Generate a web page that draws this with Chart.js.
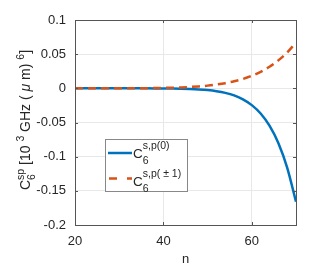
<!DOCTYPE html>
<html>
<head>
<meta charset="utf-8">
<script src="https://cdn.jsdelivr.net/npm/chart.js@4.4.1/dist/chart.umd.min.js"></script>
<style>
  html, body { margin: 0; padding: 0; background: #fff; }
  #wrap { width: 327px; height: 267px; }
</style>
</head>
<body>
<div id="wrap"><canvas id="c" width="327" height="267"></canvas></div>
<script>
// principal quantum number n
const nValues = [20, 22, 24, 26, 28, 30, 32, 34, 36, 38, 40, 42, 44, 46, 48,
  50, 52, 54, 56, 58, 60, 62, 64, 66, 68, 70];
// C6 s,p(0)
const c6m0 = [0, 0, 0, 0, -0.000002, -0.000005, -0.00001, -0.00002, -0.00004,
  -0.00009, -0.00016, -0.0003, -0.00052, -0.00091, -0.00154, -0.00256, -0.00416,
  -0.00665, -0.0104, -0.0161, -0.0246, -0.0369, -0.0547, -0.080, -0.116, -0.166];
// C6 s,p(+-1)
const c6m1 = [0.000002, 0.000004, 0.000008, 0.000016, 0.00003, 0.000054, 0.000093,
  0.00016, 0.00025, 0.0004, 0.00061, 0.00092, 0.00136, 0.00197, 0.00282, 0.00397,
  0.00552, 0.00758, 0.0103, 0.0138, 0.0184, 0.0242, 0.0316, 0.0409, 0.0525, 0.067];

const xTicks = [20, 40, 60];
const yTicks = [-0.2, -0.15, -0.1, -0.05, 0, 0.05, 0.1];

const BLUE = "#0072BD";
const ORANGE = "#D95319";
const TXT = "#262626";
const FONT = "Liberation Sans, Arial, sans-serif";

// draw a run of text pieces: {t, size, dy, italic} or {stack: true, sup, sub, size}
function pieceFont(p, base) {
  return (p.italic ? "italic " : "") + (p.size || base) + "px " + FONT;
}

function richWidth(ctx, parts, base) {
  let w = 0;
  for (const p of parts) {
    ctx.font = pieceFont(p, base);
    if (p.stack) w += Math.max(ctx.measureText(p.sup).width, ctx.measureText(p.sub).width);
    else w += ctx.measureText(p.t).width;
  }
  return w;
}

function drawRich(ctx, x, y, parts, base, sup, sub) {
  for (const p of parts) {
    ctx.font = pieceFont(p, base);
    if (p.stack) {
      ctx.fillText(p.sup, x, y - sup);
      ctx.fillText(p.sub, x, y + sub);
      x += Math.max(ctx.measureText(p.sup).width, ctx.measureText(p.sub).width);
    } else {
      ctx.fillText(p.t, x, y + (p.dy || 0));
      x += ctx.measureText(p.t).width;
    }
  }
}

const matlabLook = {
  id: "matlabLook",
  afterDraw(chart) {
    const ctx = chart.ctx;
    const a = chart.chartArea;
    const xs = chart.scales.x, ys = chart.scales.y;
    ctx.save();

    // box and inward ticks
    ctx.strokeStyle = "#555";
    ctx.lineWidth = 1;
    ctx.strokeRect(Math.round(a.left) + 0.5, Math.round(a.top) + 0.5,
      Math.round(a.right - a.left), Math.round(a.bottom - a.top));
    ctx.beginPath();
    for (const v of xTicks) {
      const px = Math.round(xs.getPixelForValue(v)) + 0.5;
      ctx.moveTo(px, a.bottom); ctx.lineTo(px, a.bottom - 3);
      ctx.moveTo(px, a.top); ctx.lineTo(px, a.top + 3);
    }
    for (const v of yTicks) {
      const py = Math.round(ys.getPixelForValue(v)) + 0.5;
      ctx.moveTo(a.left, py); ctx.lineTo(a.left + 3, py);
      ctx.moveTo(a.right, py); ctx.lineTo(a.right - 3, py);
    }
    ctx.stroke();

    ctx.fillStyle = TXT;
    ctx.textBaseline = "alphabetic";
    ctx.textAlign = "left";

    // y axis title
    const title = [
      { t: "C" }, { stack: true, sup: "sp", sub: "6", size: 10.5 },
      { t: " [10 " }, { t: "3", size: 10.5, dy: -6 },
      { t: " GHz ( " }, { t: "\u03bc", italic: true }, { t: " m) " },
      { t: "6", size: 10.5, dy: -6 }, { t: "]" }
    ];
    const tw = richWidth(ctx, title, 14);
    ctx.save();
    ctx.translate(30, 120 + tw / 2);
    ctx.rotate(-Math.PI / 2);
    drawRich(ctx, 0, 0, title, 14, 6, 5);
    ctx.restore();

    // legend
    ctx.fillStyle = "#fff";
    ctx.fillRect(105, 139, 82, 52);
    ctx.strokeStyle = "#888";
    ctx.strokeRect(105.5, 139.5, 82, 52);

    ctx.lineWidth = 2.5;
    ctx.strokeStyle = BLUE;
    ctx.beginPath(); ctx.moveTo(108, 153); ctx.lineTo(132, 153); ctx.stroke();
    ctx.strokeStyle = ORANGE;
    ctx.setLineDash([8, 10]);
    ctx.beginPath(); ctx.moveTo(109, 178.5); ctx.lineTo(132, 178.5); ctx.stroke();
    ctx.setLineDash([]);

    ctx.fillStyle = TXT;
    drawRich(ctx, 133, 158, [{ t: "C" }, { stack: true, sup: "s,p(0)", sub: "6", size: 10.5 }], 13.5, 9, 6);
    drawRich(ctx, 133, 185.5, [{ t: "C" }, { stack: true, sup: "s,p( \u00b1 1)", sub: "6", size: 10.5 }], 13.5, 9, 6);

    ctx.restore();
  }
};

const axisFont = { family: FONT, size: 13 };

new Chart(document.getElementById("c"), {
  type: "line",
  data: {
    datasets: [
      {
        label: "C6 s,p(0)",
        data: nValues.map((n, i) => ({ x: n, y: c6m0[i] })),
        borderColor: BLUE,
        borderWidth: 2.5,
        pointRadius: 0,
        cubicInterpolationMode: "monotone",
        order: 1
      },
      {
        label: "C6 s,p(+-1)",
        data: nValues.map((n, i) => ({ x: n, y: c6m1[i] })),
        borderColor: ORANGE,
        borderWidth: 2.5,
        borderDash: [8, 5],
        pointRadius: 0,
        cubicInterpolationMode: "monotone",
        order: 0
      }
    ]
  },
  options: {
    responsive: false,
    animation: false,
    events: [],
    layout: { padding: { top: 20, right: 31, left: 0, bottom: 0 } },
    plugins: { legend: { display: false }, tooltip: { enabled: false } },
    scales: {
      x: {
        type: "linear",
        min: 20,
        max: 70,
        afterBuildTicks: (s) => { s.ticks = xTicks.map(v => ({ value: v })); },
        afterFit: (s) => { s.height = 42; },
        grid: { color: "#e8e8e8", drawTicks: false },
        border: { display: false },
        ticks: { font: axisFont, color: TXT, padding: 9, maxRotation: 0 },
        title: { display: true, text: "n", font: axisFont, color: TXT, padding: 0 }
      },
      y: {
        type: "linear",
        min: -0.2,
        max: 0.1,
        afterBuildTicks: (s) => { s.ticks = yTicks.map(v => ({ value: v })); },
        afterFit: (s) => { s.width = 75; },
        grid: { color: "#e8e8e8", drawTicks: false },
        border: { display: false },
        ticks: { font: axisFont, color: TXT, padding: 9, callback: (v) => String(v) }
      }
    }
  },
  plugins: [matlabLook]
});
</script>
</body>
</html>
